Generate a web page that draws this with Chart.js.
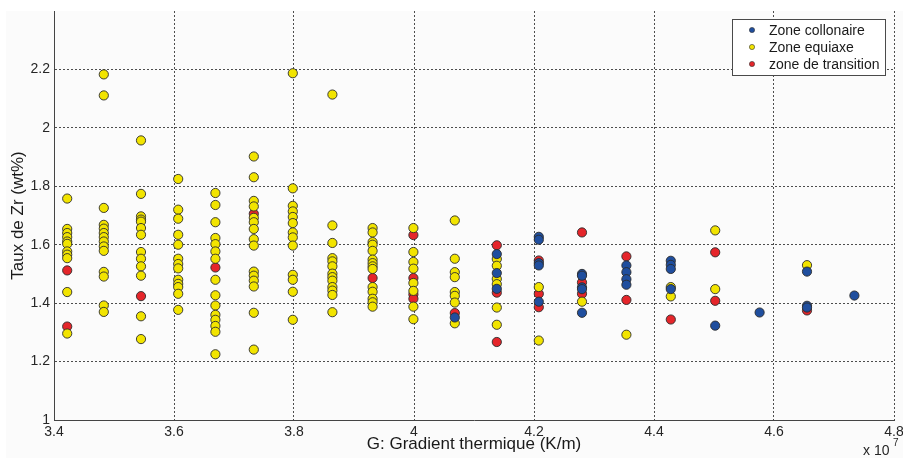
<!DOCTYPE html>
<html>
<head>
<meta charset="utf-8">
<script src="https://cdn.jsdelivr.net/npm/chart.js@4/dist/chart.umd.min.js"></script>
<style>
  html, body { margin: 0; padding: 0; background: #fff; }
  #wrap { width: 903px; height: 458px; }
</style>
</head>
<body>
<div id="wrap"><canvas id="zrChart"></canvas></div>
<script>
// G columns (x 10^7 K/m)
const gradient = [3.422, 3.483, 3.545, 3.607, 3.669, 3.733, 3.798, 3.864, 3.931, 3.999,
                  4.068, 4.138, 4.208, 4.280, 4.354, 4.428, 4.502, 4.576, 4.655, 4.734];

// Zr values (wt%) for each G column
const collonaire = [
    [], [], [], [], [], [], [], [], [], [],
    [1.351],
    [1.568, 1.503, 1.449],
    [1.627, 1.617, 1.537, 1.529, 1.405],
    [1.500, 1.494, 1.454, 1.448, 1.367],
    [1.529, 1.506, 1.482, 1.463],
    [1.545, 1.531, 1.517, 1.448],
    [1.323],
    [1.368],
    [1.508, 1.391, 1.385],
    [1.426]
];

const equiaxe = [
    [1.758, 1.654, 1.640, 1.626, 1.611, 1.603, 1.577, 1.566, 1.554, 1.438, 1.296],
    [2.183, 2.111, 1.726, 1.668, 1.655, 1.640, 1.626, 1.611, 1.594, 1.579, 1.507, 1.491, 1.392, 1.370],
    [1.957, 1.774, 1.697, 1.686, 1.679, 1.657, 1.634, 1.575, 1.552, 1.526, 1.494, 1.355, 1.277],
    [1.825, 1.720, 1.689, 1.634, 1.600, 1.552, 1.534, 1.519, 1.480, 1.466, 1.455, 1.432, 1.377],
    [1.777, 1.736, 1.677, 1.623, 1.602, 1.577, 1.552, 1.480, 1.427, 1.392, 1.360, 1.343, 1.322, 1.302, 1.225],
    [1.902, 1.831, 1.750, 1.731, 1.692, 1.677, 1.654, 1.619, 1.597, 1.508, 1.494, 1.477, 1.457, 1.367, 1.241],
    [2.187, 1.793, 1.733, 1.714, 1.695, 1.674, 1.642, 1.625, 1.597, 1.497, 1.480, 1.439, 1.343],
    [2.114, 1.666, 1.606, 1.554, 1.543, 1.526, 1.501, 1.489, 1.477, 1.455, 1.443, 1.428, 1.369],
    [1.657, 1.642, 1.609, 1.600, 1.579, 1.549, 1.537, 1.526, 1.517, 1.455, 1.439, 1.415, 1.403, 1.388],
    [1.657, 1.575, 1.541, 1.518, 1.469, 1.442, 1.388, 1.345],
    [1.683, 1.552, 1.506, 1.489, 1.438, 1.425, 1.402, 1.331],
    [1.551, 1.528, 1.483, 1.465, 1.385, 1.326],
    [1.455, 1.272],
    [1.405],
    [1.292],
    [1.455, 1.423],
    [1.649, 1.448],
    [],
    [1.530],
    []
];

const transition = [
    [1.512, 1.320],
    [],
    [1.424],
    [],
    [1.522],
    [1.706],
    [], [],
    [1.486],
    [1.633, 1.486, 1.430, 1.415],
    [1.366],
    [1.598, 1.436, 1.267],
    [1.546, 1.432, 1.386],
    [1.642, 1.471, 1.432],
    [1.560, 1.411],
    [1.344],
    [1.574, 1.408],
    [],
    [1.375],
    []
];

const seriesNames = ["Zone collonaire", "Zone equiaxe", "zone de transition"];
const seriesColors = ["#1f4e9e", "#f2e400", "#e5252a"];

const xTicks = [3.4, 3.6, 3.8, 4, 4.2, 4.4, 4.6, 4.8];
const yTicks = [1, 1.2, 1.4, 1.6, 1.8, 2, 2.2];

function toPoints(series) {
    let pts = [];
    series.forEach(function(col, i) {
        col.forEach(function(v) {
            pts.push({ x: gradient[i], y: v });
        });
    });
    return pts;
}

const FONT = "'Liberation Sans', Arial, sans-serif";

const backgroundPlugin = {
    id: "figBackground",
    beforeDraw: function(chart) {
        let ctx = chart.ctx;
        ctx.save();
        ctx.fillStyle = "#fbfbfb";
        ctx.fillRect(6, 11, chart.width - 6, chart.height - 11);
        ctx.restore();
    }
};

const extrasPlugin = {
    id: "figExtras",
    afterDraw: function(chart) {
        let ctx = chart.ctx;
        ctx.save();

        // legend box
        let lx = 732, ly = 19, lw = 153, lh = 56;
        ctx.fillStyle = "#ffffff";
        ctx.fillRect(lx, ly, lw, lh);
        ctx.strokeStyle = "#4a4a4a";
        ctx.lineWidth = 1;
        ctx.strokeRect(lx + 0.5, ly + 0.5, lw, lh);
        ctx.font = "14px " + FONT;
        ctx.textBaseline = "middle";
        ctx.textAlign = "left";
        seriesNames.forEach(function(name, i) {
            let cy = 30 + i * 17;
            ctx.beginPath();
            ctx.arc(752, cy, 2.6, 0, Math.PI * 2);
            ctx.fillStyle = seriesColors[i];
            ctx.fill();
            ctx.strokeStyle = "#333";
            ctx.lineWidth = 0.6;
            ctx.stroke();
            ctx.fillStyle = "#1a1a1a";
            ctx.fillText(name, 769, cy + 1);
        });

        // x 10^7 exponent note
        ctx.fillStyle = "#262626";
        ctx.font = "14px " + FONT;
        ctx.textBaseline = "alphabetic";
        ctx.fillText("x 10", 863, 455);
        ctx.font = "10px " + FONT;
        ctx.fillText("7", 893, 446);
        ctx.restore();
    }
};

function gridColor(ctx) {
    if (ctx.tick && Math.abs(ctx.tick.value - 2.4) < 1e-6) return "transparent";
    return "#4d4d4d";
}

function fmt(v) {
    return String(Number(v.toFixed(1)));
}

new Chart(document.getElementById("zrChart"), {
    type: "scatter",
    data: {
        datasets: [collonaire, equiaxe, transition].map(function(s, i) {
            return {
                label: seriesNames[i],
                data: toPoints(s),
                backgroundColor: seriesColors[i],
                borderColor: "#2b2b2b",
                borderWidth: 0.9,
                pointRadius: 4.6,
                pointHoverRadius: 4.6
            };
        })
    },
    options: {
        responsive: true,
        maintainAspectRatio: false,
        animation: false,
        events: [],
        layout: { padding: { left: 0, right: 0, top: 11, bottom: 0 } },
        plugins: {
            legend: { display: false },
            tooltip: { enabled: false }
        },
        scales: {
            x: {
                type: "linear",
                min: 3.4,
                max: 4.8,
                afterBuildTicks: function(scale) {
                    scale.ticks = xTicks.map(function(v) { return { value: v }; });
                },
                afterFit: function(scale) {
                    scale.height = 38;
                    scale.paddingLeft = 0;
                    scale.paddingRight = 9;
                },
                ticks: {
                    callback: fmt,
                    color: "#262626",
                    font: { size: 14, family: FONT },
                    padding: 4,
                    maxRotation: 0
                },
                grid: { color: gridColor, lineWidth: 1, drawTicks: false },
                border: { display: true, color: "#444", width: 1, dash: [2, 2] },
                title: {
                    display: true,
                    text: "G: Gradient thermique (K/m)",
                    color: "#1a1a1a",
                    font: { size: 17, family: FONT },
                    padding: { top: 0, bottom: 3 }
                }
            },
            y: {
                type: "linear",
                min: 1,
                max: 2.4,
                afterBuildTicks: function(scale) {
                    scale.ticks = yTicks.concat([2.4]).map(function(v) { return { value: v }; });
                },
                afterFit: function(scale) {
                    scale.width = 54;
                    scale.paddingTop = 0;
                    scale.paddingBottom = 0;
                },
                ticks: {
                    callback: function(v) { return Math.abs(v - 2.4) < 1e-6 ? "" : fmt(v); },
                    color: "#262626",
                    font: { size: 14, family: FONT },
                    padding: 4
                },
                grid: { color: gridColor, lineWidth: 1, drawTicks: false },
                border: { display: true, color: "#444", width: 1, dash: [2, 2] },
                title: {
                    display: true,
                    text: "Taux de Zr (wt%)",
                    color: "#1a1a1a",
                    font: { size: 17, family: FONT },
                    padding: { top: 8, bottom: 0 }
                }
            }
        }
    },
    plugins: [backgroundPlugin, extrasPlugin]
});
</script>
</body>
</html>
